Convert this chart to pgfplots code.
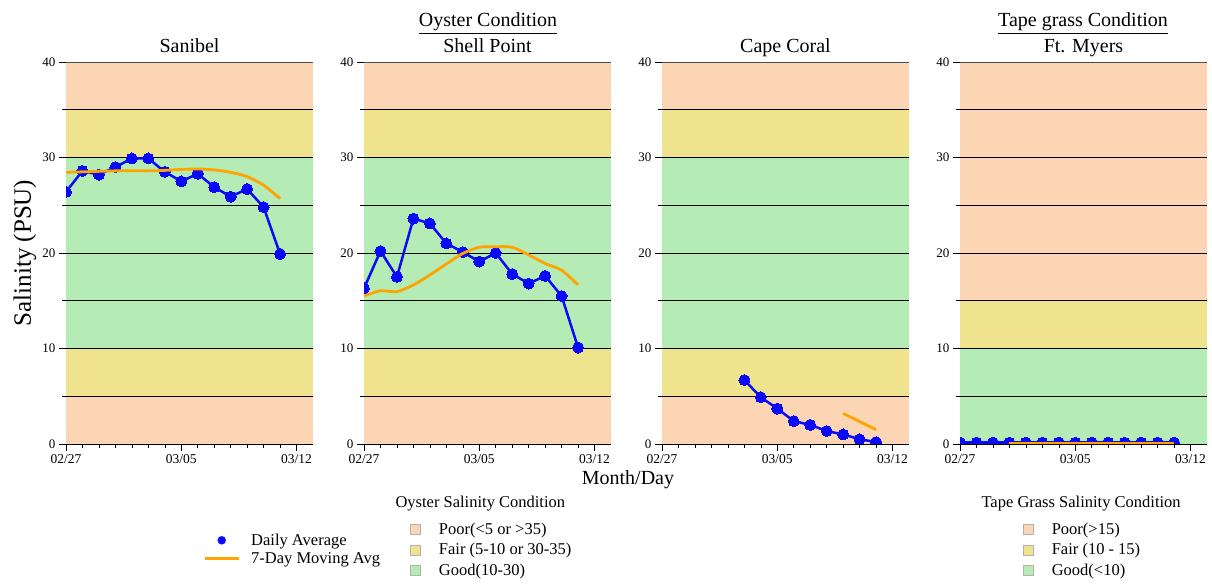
\documentclass[border=0pt]{standalone}
\usepackage{fontspec}
\setmainfont{Liberation Serif}
\usepackage{pgfplots}
\pgfplotsset{compat=1.18}
\definecolor{peach}{RGB}{252,213,180}
\definecolor{fairy}{RGB}{239,228,141}
\definecolor{goodg}{RGB}{181,236,181}
\definecolor{myorange}{RGB}{255,163,0}
\definecolor{myblue}{RGB}{10,10,245}

\pgfplotsset{
 panel/.style={
  scale only axis, width=247pt, height=382pt,
  xmin=0,xmax=15,ymin=0,ymax=40,
  axis lines=left, axis line style={-, black, line width=0.8pt},
  xtick={0,7,14}, xticklabels={02/27,03/05,03/12},
  minor xtick={1,2,3,4,5,6,8,9,10,11,12,13},
  ytick={0,10,20,30,40}, minor ytick={5,15,25,35},
  tick align=outside, major tick length=7pt, minor tick length=4pt,
  tick style={black, line width=0.6pt},
  yticklabel style={font=\fontsize{13}{15}\selectfont},
  xticklabel style={font=\fontsize{13.5}{15}\selectfont},
  /pgf/number format/assume math mode=true,
  clip marker paths=true,
  title style={anchor=base, at={(0.5,1)}, yshift=3pt, font=\fontsize{20}{24}\selectfont},
  anchor=south west,
 },
 daily/.style={myblue, line width=2.5pt, mark=*, mark size=5.5pt, mark options={solid, fill=myblue, draw=myblue, line width=0pt}, forget plot},
 ma/.style={myorange, line width=2.8pt, no marks, forget plot},
 band/.style={draw=none, fill=#1, forget plot},
 gl/.style={black, line width=0.7pt, forget plot},
 swatch/.style={legend image code/.code={\draw[gray!60, line width=0.6pt, fill=#1] (0pt,-5pt) rectangle (10pt,5pt);}},
 bandlegend/.style={legend style={draw=none, fill=none, inner sep=0pt, font=\fontsize{16.5}{19}\selectfont, row sep=7.5pt, nodes={inner sep=0pt}, /tikz/every odd column/.append style={column sep=18pt}}, legend cell align=left},
}
\newcommand{\gridlines}{%
 \addplot[gl] coordinates {(0,5)(15,5)};
 \addplot[gl] coordinates {(0,10)(15,10)};
 \addplot[gl] coordinates {(0,15)(15,15)};
 \addplot[gl] coordinates {(0,20)(15,20)};
 \addplot[gl] coordinates {(0,25)(15,25)};
 \addplot[gl] coordinates {(0,30)(15,30)};
 \addplot[gl] coordinates {(0,35)(15,35)};
 \addplot[gl, black!70] coordinates {(0,40)(15,40)};
}
\newcommand{\oysterbands}{%
 \addplot[band=peach] coordinates {(0,0)(15,0)(15,5)(0,5)} -- cycle;
 \addplot[band=fairy] coordinates {(0,5)(15,5)(15,10)(0,10)} -- cycle;
 \addplot[band=goodg] coordinates {(0,10)(15,10)(15,30)(0,30)} -- cycle;
 \addplot[band=fairy] coordinates {(0,30)(15,30)(15,35)(0,35)} -- cycle;
 \addplot[band=peach] coordinates {(0,35)(15,35)(15,40)(0,40)} -- cycle;
 \gridlines
}
\newcommand{\tapebands}{%
 \addplot[band=goodg] coordinates {(0,0)(15,0)(15,10)(0,10)} -- cycle;
 \addplot[band=fairy] coordinates {(0,10)(15,10)(15,15)(0,15)} -- cycle;
 \addplot[band=peach] coordinates {(0,15)(15,15)(15,40)(0,40)} -- cycle;
 \gridlines
}

\begin{document}
\begin{tikzpicture}
\useasboundingbox (0pt,0pt) rectangle (1212pt,585pt);

% Sanibel
\begin{axis}[panel, at={(66pt,141pt)}, title={Sanibel},
  legend style={at={(0.5547,-0.2762)}, anchor=west, draw=none, fill=none, inner sep=0pt,
    font=\fontsize{16.5}{19}\selectfont, row sep=6pt, nodes={inner sep=0pt},
    /tikz/every odd column/.append style={column sep=11pt}},
  legend cell align=left]
\oysterbands
\addplot[daily] coordinates {(0,26.4)(1,28.6)(2,28.2)(3,29.0)(4,29.9)(5,29.9)(6,28.5)(7,27.5)(8,28.3)(9,26.9)(10,25.9)(11,26.7)(12,24.8)(13,19.9)};
\addplot[ma, smooth, tension=0.4] coordinates {(0,28.45)(1,28.5)(2,28.55)(3,28.6)(4,28.62)(5,28.6)(6,28.65)(7,28.75)(8,28.8)(9,28.7)(10,28.45)(11,28.0)(12,27.1)(13,25.7)};
\addlegendimage{legend image code/.code={\fill[myblue] (17pt,0pt) circle (4pt);}}
\addlegendentry{Daily Average}
\addlegendimage{legend image code/.code={\draw[myorange, line width=3pt] (0pt,0pt) -- (34pt,0pt);}}
\addlegendentry{7-Day Moving Avg}
\end{axis}

% Shell Point
\begin{axis}[panel, at={(364pt,141pt)}, title={Shell Point}, bandlegend,
  legend style={at={(0.187,-0.2775)}, anchor=west}]
\oysterbands
\addplot[daily] coordinates {(0,16.3)(1,20.2)(2,17.5)(3,23.6)(4,23.1)(5,21.0)(6,20.1)(7,19.1)(8,20.0)(9,17.8)(10,16.8)(11,17.6)(12,15.5)(13,10.1)};
\addplot[ma, smooth, tension=0.4] coordinates {(0,15.5)(1,16.05)(2,15.95)(3,16.65)(4,17.7)(5,18.85)(6,19.95)(7,20.6)(8,20.66)(9,20.6)(10,19.8)(11,18.9)(12,18.2)(13,16.65)};
\addlegendimage{swatch=peach}
\addlegendentry{Poor(<5 or >35)}
\addlegendimage{swatch=fairy}
\addlegendentry{Fair (5-10 or 30-35)}
\addlegendimage{swatch=goodg}
\addlegendentry{Good(10-30)}
\end{axis}

% Cape Coral
\begin{axis}[panel, at={(662pt,141pt)}, title={Cape Coral}]
\oysterbands
\addplot[daily] coordinates {(5,6.7)(6,4.9)(7,3.7)(8,2.4)(9,2.0)(10,1.36)(11,1.0)(12,0.5)(13,0.2)};
\addplot[ma] coordinates {(11,3.2)(12,2.35)(13,1.5)};
\end{axis}

% Ft. Myers
\begin{axis}[panel, at={(960pt,141pt)}, title={Ft. Myers}, bandlegend,
  legend style={at={(0.255,-0.2775)}, anchor=west}]
\tapebands
\addplot[daily] coordinates {(0,0.15)(1,0.15)(2,0.15)(3,0.15)(4,0.15)(5,0.15)(6,0.15)(7,0.15)(8,0.15)(9,0.15)(10,0.15)(11,0.15)(12,0.15)(13,0.15)};
\addplot[ma] coordinates {(3,0.1)(4,0.1)(5,0.1)(6,0.1)(7,0.1)(8,0.1)(9,0.1)(10,0.1)(11,0.1)(12,0.1)(13,0.1)};
\addlegendimage{swatch=peach}
\addlegendentry{Poor(>15)}
\addlegendimage{swatch=fairy}
\addlegendentry{Fair (10 - 15)}
\addlegendimage{swatch=goodg}
\addlegendentry{Good(<10)}
\end{axis}

\node[anchor=base, font=\fontsize{20}{24}\selectfont] at (488pt,558pt) {\underline{Oyster Condition}};
\node[anchor=base, font=\fontsize{20}{24}\selectfont] at (1083pt,558pt) {\underline{Tape grass Condition}};
\node[rotate=90, font=\fontsize{25}{30}\selectfont] at (25pt,332pt) {Salinity (PSU)};
\node[font=\fontsize{20}{24}\selectfont] at (628pt,105pt) {Month/Day};
\node[anchor=west, font=\fontsize{16.5}{19}\selectfont] at (392pt,81pt) {Oyster Salinity Condition};
\node[anchor=west, font=\fontsize{16.5}{19}\selectfont] at (978pt,81pt) {Tape Grass Salinity Condition};
\end{tikzpicture}
\end{document}
